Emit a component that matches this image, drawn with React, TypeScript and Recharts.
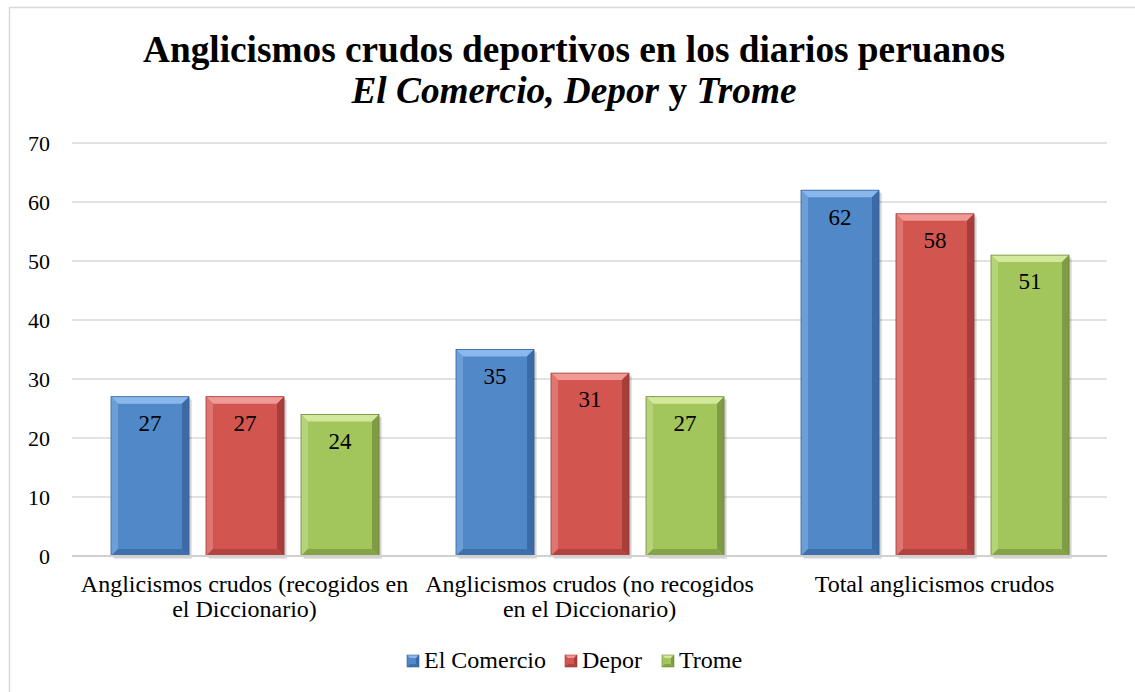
import React from 'react';
import { BarChart, Bar, XAxis, YAxis, CartesianGrid, LabelList } from 'recharts';

const FONT = "'Liberation Serif', 'Times New Roman', serif";

const categories = [
  'Anglicismos crudos (recogidos en el Diccionario)',
  'Anglicismos crudos (no recogidos en el Diccionario)',
  'Total anglicismos crudos',
];
const elComercio = [27, 35, 62];
const depor = [27, 31, 58];
const trome = [24, 27, 51];
const yTicks = [0, 10, 20, 30, 40, 50, 60, 70];
const seriesKeys = ['elComercio', 'depor', 'trome'];
const seriesNames = ['El Comercio', 'Depor', 'Trome'];

const data = categories.map((name, i) => ({
  name,
  elComercio: elComercio[i],
  depor: depor[i],
  trome: trome[i],
}));

type Pal = { main: string; top: string; left: string; right: string; bottom: string; edge: string };
const palettes: Record<string, Pal> = {
  elComercio: { main: '#5088c8', top: '#8ab8ec', left: '#6c9fd8', right: '#3b6aa6', bottom: '#3f70ac', edge: '#35619a' },
  depor: { main: '#d2564f', top: '#f19a95', left: '#de7570', right: '#a83e3a', bottom: '#b3433e', edge: '#9a3a36' },
  trome: { main: '#a2c55c', top: '#d2e99c', left: '#b5d377', right: '#7f9c44', bottom: '#86a447', edge: '#71893c' },
};

const makeShape = (c: Pal) => (props: any) => {
  const { x, y, width: w, height: h } = props;
  if (!h || h <= 0) return <g />;
  const b = Math.min(7, w / 4, h / 4);
  return (
    <g>
      <rect x={x + 3} y={y + 3} width={w} height={h} fill="rgba(0,0,0,0.10)" />
      <rect x={x + 1.5} y={y + 1.5} width={w} height={h} fill="rgba(0,0,0,0.15)" />
      <rect x={x} y={y} width={w} height={h} fill={c.main} />
      <polygon points={`${x},${y} ${x + w},${y} ${x + w - b},${y + b} ${x + b},${y + b}`} fill={c.top} />
      <polygon points={`${x},${y} ${x + b},${y + b} ${x + b},${y + h - b} ${x},${y + h}`} fill={c.left} />
      <polygon points={`${x + w},${y} ${x + w},${y + h} ${x + w - b},${y + h - b} ${x + w - b},${y + b}`} fill={c.right} />
      <polygon points={`${x},${y + h} ${x + w},${y + h} ${x + w - b},${y + h - b} ${x + b},${y + h - b}`} fill={c.bottom} />
      <rect x={x} y={y} width={w} height={h} fill="none" stroke={c.edge} strokeWidth={0.8} />
    </g>
  );
};

let measureCtx: CanvasRenderingContext2D | null = null;
const measure = (s: string, size: number) => {
  if (!measureCtx && typeof document !== 'undefined') {
    measureCtx = document.createElement('canvas').getContext('2d');
  }
  if (!measureCtx) return s.length * size * 0.45;
  measureCtx.font = `${size}px 'Liberation Serif'`;
  return measureCtx.measureText(s).width;
};

const wrap = (s: string, maxW: number, size: number) => {
  const words = s.split(' ');
  const lines: string[] = [];
  let cur = '';
  for (const w of words) {
    const t = cur ? cur + ' ' + w : w;
    if (cur && measure(t, size) > maxW) {
      lines.push(cur);
      cur = w;
    } else {
      cur = t;
    }
  }
  if (cur) lines.push(cur);
  return lines;
};

const XTick = (props: any) => {
  const { x, y, payload } = props;
  const lines = wrap(String(payload.value), 338, 24);
  return (
    <text x={x} y={y + 36} textAnchor="middle" fontSize={24} fontFamily={FONT} fill="#000">
      {lines.map((l, i) => (
        <tspan key={i} x={x} dy={i === 0 ? 0 : 25}>
          {l}
        </tspan>
      ))}
    </text>
  );
};

const LegendIcon = ({ x, y, c }: { x: number; y: number; c: Pal }) => {
  const s = 12;
  const b = 3;
  return (
    <g>
      <rect x={x} y={y} width={s} height={s} fill={c.main} />
      <polygon points={`${x},${y} ${x + s},${y} ${x + s - b},${y + b} ${x + b},${y + b}`} fill={c.top} />
      <polygon points={`${x + s},${y} ${x + s},${y + s} ${x + s - b},${y + s - b} ${x + s - b},${y + b}`} fill={c.right} />
      <polygon points={`${x},${y + s} ${x + s},${y + s} ${x + s - b},${y + s - b} ${x + b},${y + s - b}`} fill={c.bottom} />
      <rect x={x} y={y} width={s} height={s} fill="none" stroke={c.edge} strokeWidth={0.6} />
    </g>
  );
};

const legendX = [407, 565, 662];

export default function App() {
  return (
    <div style={{ position: 'absolute', left: 0, top: 0, width: 1135, height: 692, background: '#fff', overflow: 'hidden' }}>
      <BarChart
        width={1135}
        height={692}
        data={data}
        margin={{ top: 143, right: 28, left: 0, bottom: 76 }}
        barSize={78}
        barGap={17}
      >
        <CartesianGrid vertical={false} stroke="#d9d9d9" strokeWidth={1.3} />
        <XAxis
          dataKey="name"
          height={60}
          tickLine={false}
          tickSize={0}
          tickMargin={0}
          axisLine={{ stroke: '#d0d0d0', strokeWidth: 2 }}
          tick={<XTick />}
          interval={0}
        />
        <YAxis
          width={72}
          domain={[0, 70]}
          ticks={yTicks}
          tickLine={false}
          tickSize={0}
          tickMargin={22}
          axisLine={false}
          tick={{ fontSize: 22, fill: '#000', fontFamily: FONT }}
        />
        {seriesKeys.map((k, i) => (
          <Bar key={k} dataKey={k} name={seriesNames[i]} isAnimationActive={false} shape={makeShape(palettes[k])}>
            <LabelList dataKey={k} position="insideTop" offset={18} fontSize={23} fill="#000" fontFamily={FONT} />
          </Bar>
        ))}
      </BarChart>
      <svg width={1135} height={692} style={{ position: 'absolute', left: 0, top: 0, pointerEvents: 'none' }}>
        <rect x={9.5} y={7.5} width={1140} height={700} fill="none" stroke="#d9d9d9" strokeWidth={1.5} />
        <text x={574} y={62} textAnchor="middle" fontFamily={FONT} fontWeight="bold" fontSize={37.3} fill="#000">
          Anglicismos crudos deportivos en los diarios peruanos
        </text>
        <text x={574} y={103} textAnchor="middle" fontFamily={FONT} fontWeight="bold" fontSize={37.3} fill="#000">
          <tspan fontStyle="italic">El Comercio, Depor</tspan>
          <tspan> y </tspan>
          <tspan fontStyle="italic">Trome</tspan>
        </text>
        {seriesKeys.map((k, i) => (
          <g key={k}>
            <LegendIcon x={legendX[i]} y={655} c={palettes[k]} />
            <text x={legendX[i] + 17} y={668} fontFamily={FONT} fontSize={24} fill="#000">
              {seriesNames[i]}
            </text>
          </g>
        ))}
      </svg>
    </div>
  );
}
